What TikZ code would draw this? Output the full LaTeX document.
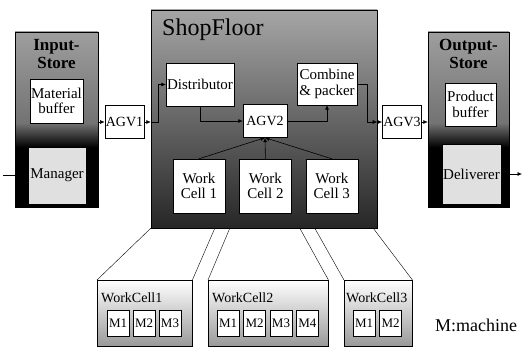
\documentclass[tikz,border=0pt]{standalone}
\usepackage{fontspec}
\setmainfont{Liberation Serif}
\newfontfamily\diagfont{Liberation Serif}
\usetikzlibrary{arrows.meta,positioning,calc}
\colorlet{storetop}{black!38}
\colorlet{storemid}{black!55}
\pgfdeclareverticalshading{storeshade}{100bp}{color(0bp)=(black); color(25bp)=(black); color(42bp)=(black); color(49bp)=(storemid); color(75bp)=(storetop); color(100bp)=(storetop)}

\begin{document}
\begin{tikzpicture}[
    x=1pt, y=-1pt,
    >={Latex[length=4.5pt,width=4pt]},
    txt/.style={font=\diagfont\fontsize{15}{15.5}\selectfont},
    wbox/.style={
      rectangle, draw, fill=white,
      align=center, inner sep=1pt, txt
    },
    store/.style={
      rectangle, draw, shade, shading=storeshade,
      minimum height=175pt
    },
    storelabel/.style={font=\diagfont\bfseries\fontsize{17}{18}\selectfont, align=center},
    agv/.style={wbox, font=\diagfont\fontsize{14}{15}\selectfont, minimum height=33pt},
    cell/.style={wbox, minimum width=52pt, minimum height=54pt},
    cellbox/.style={
      rectangle, draw, top color=white, bottom color=black!40,
      minimum height=66pt, anchor=north west
    },
    celllabel/.style={anchor=west, inner sep=0pt, font=\diagfont\fontsize{14}{14}\selectfont},
    mbox/.style={
      rectangle, draw, fill=white, inner sep=0pt,
      minimum width=22pt, minimum height=26pt,
      font=\diagfont\fontsize{13}{13}\selectfont
    },
    arr/.style={->, line width=0.6pt}
  ]
  \useasboundingbox (0,0) rectangle (524,347);

  % Input store
  \node[store, minimum width=83pt] (instore) at (56.5,119.5) {};
  \node[storelabel] (inlab) at (56.5,54) {Input-\\Store};
  \node[wbox, minimum width=53pt, minimum height=44pt] (mat) at (56.5,101)
    {Material\\buffer};
  \node[wbox, fill=black!12, minimum width=58pt, minimum height=57pt] (mgr)
    at (57,175.5) {Manager};

  % Shop floor
  \node[rectangle, draw, top color=black!35, bottom color=black!85,
        minimum width=226pt, minimum height=218pt] (shop) at (264,119) {};
  \node[anchor=west, inner sep=0pt, font=\diagfont\fontsize{24}{24}\selectfont] (shoplab)
    at (162,30) {ShopFloor};
  \node[wbox, minimum width=64pt, minimum height=43pt] (dist) at (200,84.5)
    {Distributor};
  \node[wbox, minimum width=60pt, minimum height=42pt] (comb) at (327,84)
    {Combine\\\& packer};
  \node[agv, minimum width=44pt] (agv2) at (265,121) {AGV2};
  \node[cell] (wc1) at (199,186) {Work\\Cell 1};
  \node[cell, right=14pt of wc1] (wc2) {Work\\Cell 2};
  \node[cell, right=14pt of wc2] (wc3) {Work\\Cell 3};

  % AGVs between stores
  \node[agv, minimum width=35pt] (agv1) at (124.5,122) {AGV1};
  \node[agv, minimum width=38pt] (agv3) at (402,122) {AGV3};

  % Output store
  \node[store, minimum width=81pt] (outstore) at (468.5,119.5) {};
  \node[storelabel] (outlab) at (468.5,54) {Output-\\Store};
  \node[wbox, minimum width=51pt, minimum height=43pt] (prod) at (470.5,104.5)
    {Product\\buffer};
  \node[wbox, fill=black!12, minimum width=53pt, minimum height=60pt] (deliv)
    at (471.5,174) {Deliverer};

  \coordinate (src) at (3,175.5);
  \coordinate (sink) at (522,174);

  % Work cell details
  \node[cellbox, minimum width=95pt] (wcb1) at (97,280) {};
  \node[celllabel] (wcl1) at ([xshift=4pt,yshift=-18pt]wcb1.north west) {WorkCell1};
  \node[mbox, anchor=north west] (m11) at ([xshift=10pt,yshift=-30pt]wcb1.north west) {M1};
  \node[mbox, right=3.5pt of m11] (m12) {M2};
  \node[mbox, right=3.5pt of m12] (m13) {M3};

  \node[cellbox, minimum width=120pt] (wcb2) at (208,280) {};
  \node[celllabel] (wcl2) at ([xshift=4pt,yshift=-18pt]wcb2.north west) {WorkCell2};
  \node[mbox, anchor=north west] (m21) at ([xshift=9pt,yshift=-30pt]wcb2.north west) {M1};
  \node[mbox, right=4pt of m21] (m22) {M2};
  \node[mbox, right=4pt of m22] (m23) {M3};
  \node[mbox, right=4pt of m23] (m24) {M4};

  \node[cellbox, minimum width=68pt] (wcb3) at (344,280) {};
  \node[celllabel] (wcl3) at ([xshift=2pt,yshift=-18pt]wcb3.north west) {WorkCell3};
  \node[mbox, anchor=north west] (m31) at ([xshift=9pt,yshift=-30pt]wcb3.north west) {M1};
  \node[mbox, right=4pt of m31] (m32) {M2};

  \node[font=\diagfont\fontsize{18}{18}\selectfont] (legend) at (476,325) {M:machine};

  % Material flow
  \draw (src) -- (src -| instore.west);
  \draw[arr] (agv1.west -| instore.east) -- (agv1.west);
  \draw[arr] (agv1.east) -- (agv1.east -| shop.west);
  \draw[arr] (agv1.east -| shop.west) -- ++(7,0) |- (dist.west);
  \draw[arr] (dist.south) |- (agv2.west);
  \draw[arr] (agv2.east) -| (comb.south);
  \draw[arr] (comb.east) -- ++(10,0) |- (agv3.west -| shop.east);
  \draw[arr] (agv3.west -| shop.east) -- (agv3.west);
  \draw[arr] (agv3.east) -- (agv3.east -| outstore.west);
  \draw[arr] (sink -| outstore.east) -- (sink);
  \foreach \c in {wc1,wc2,wc3}
    \draw[arr] (\c.north) -- (agv2.south);

  % Zoom lines
  \draw (shop.south west) -- (wcb1.north west);
  \draw ([xshift=64pt]shop.south west) -- (wcb1.north east);
  \draw ([xshift=79pt]shop.south west) -- (wcb2.north west);
  \draw ([xshift=149pt]shop.south west) -- (wcb2.north east);
  \draw ([xshift=164pt]shop.south west) -- (wcb3.north west);
  \draw ([xshift=-4pt]shop.south east) -- (wcb3.north east);
\end{tikzpicture}
\end{document}
